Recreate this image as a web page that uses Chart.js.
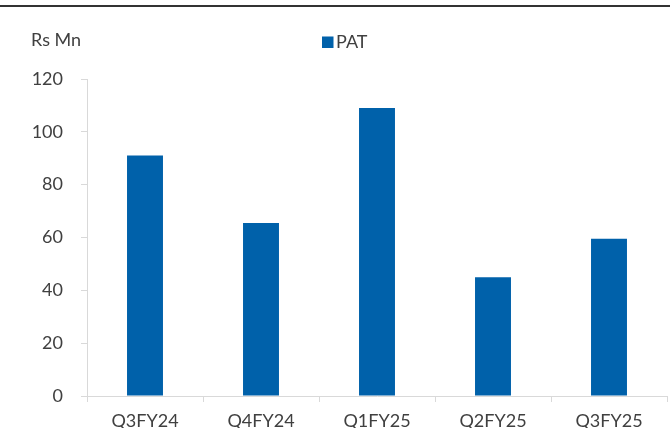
<!DOCTYPE html>
<html>
<head>
<meta charset="utf-8">
<script src="https://cdn.jsdelivr.net/npm/chart.js@4.4.0/dist/chart.umd.min.js"></script>
<style>
  html, body { margin: 0; padding: 0; background: #fff; }
  #wrap { width: 670px; height: 428px; position: relative; }
</style>
</head>
<body>
<div id="wrap"><canvas id="patChart"></canvas></div>
<script>
const quarters = ['Q3FY24', 'Q4FY24', 'Q1FY25', 'Q2FY25', 'Q3FY25'];
const patValues = [91, 65.5, 109, 45, 59.5];
const yTicks = [0, 20, 40, 60, 80, 100, 120];

const textColor = '#404040';
const axisColor = '#d9d9d9';
const barColor = '#0061aa';
const font18 = { family: 'Lato', size: 18 };

// top rule, unit label and the single legend entry
const decorations = {
  id: 'decorations',
  afterDraw(chart) {
    const ctx = chart.ctx;
    const ds = chart.data.datasets[0];
    ctx.save();
    ctx.strokeStyle = '#333333';
    ctx.lineWidth = 2;
    ctx.beginPath();
    ctx.moveTo(0, 6);
    ctx.lineTo(chart.width, 6);
    ctx.stroke();

    ctx.fillStyle = textColor;
    ctx.font = '18px Lato';
    ctx.textBaseline = 'alphabetic';
    ctx.fillText('Rs Mn', 31, 45.5);

    ctx.fillStyle = ds.backgroundColor;
    ctx.fillRect(322, 36.5, 11.5, 11.5);
    ctx.fillStyle = textColor;
    ctx.fillText(ds.label, 336, 47.5);
    ctx.restore();
  }
};

const ctx = document.getElementById('patChart').getContext('2d');
const patChart = new Chart(ctx, {
  type: 'bar',
  data: {
    labels: quarters,
    datasets: [{
      label: 'PAT',
      data: patValues,
      backgroundColor: barColor,
      barPercentage: 0.31,
      categoryPercentage: 1
    }]
  },
  options: {
    responsive: true,
    maintainAspectRatio: false,
    animation: false,
    layout: { padding: { top: 79, right: 3, left: 0, bottom: 0 } },
    plugins: {
      legend: { display: false },
      tooltip: { enabled: false }
    },
    scales: {
      x: {
        offset: true,
        grid: {
          offset: true,
          drawOnChartArea: false,
          color: axisColor,
          tickLength: 6
        },
        border: { color: axisColor },
        ticks: {
          color: textColor,
          padding: 8,
          font: font18
        },
        afterFit(scale) { scale.height = 32; }
      },
      y: {
        min: 0,
        max: 120,
        afterBuildTicks(scale) {
          scale.ticks = yTicks.map((v) => ({ value: v }));
        },
        grid: {
          drawOnChartArea: false,
          color: axisColor,
          tickLength: 6
        },
        border: { color: axisColor },
        ticks: {
          color: textColor,
          padding: 18,
          font: font18
        },
        afterFit(scale) { scale.width = 87; }
      }
    }
  },
  plugins: [decorations]
});
</script>
</body>
</html>
